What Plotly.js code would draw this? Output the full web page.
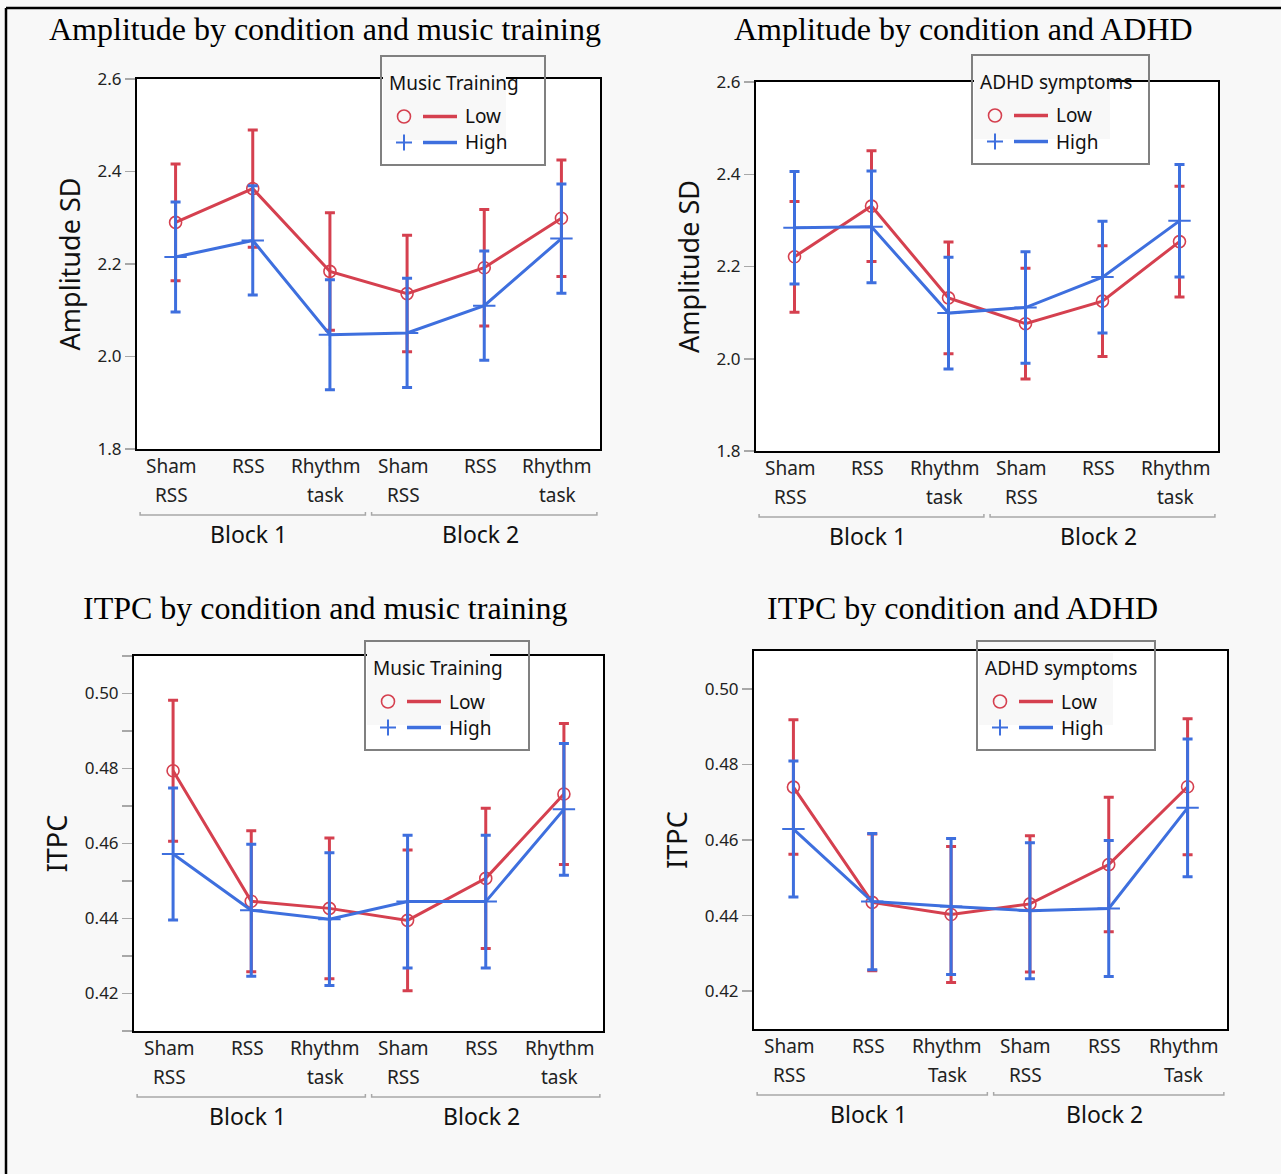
<!DOCTYPE html>
<html>
<head>
<meta charset="utf-8">
<script src="https://cdn.plot.ly/plotly-3.0.1.min.js"></script>
<style>
  html, body { margin: 0; padding: 0; background: #f8f8f8; }
  #chart { width: 1281px; height: 1174px; }
</style>
</head>
<body>
<div id="chart"></div>
<script>
// ---------- DATA ----------
const catTop = ['Sham', 'RSS', 'Rhythm', 'Sham', 'RSS', 'Rhythm'];
const catBottom = ['RSS', '', 'task', 'RSS', '', 'task'];
const catBottomCap = ['RSS', '', 'Task', 'RSS', '', 'Task'];
const blocks = ['Block 1', 'Block 2'];
const groupLevels = ['Low', 'High'];

// Amplitude SD by music training
const ampMusicLow = [2.290, 2.363, 2.184, 2.136, 2.192, 2.299];
const ampMusicLowErr = [0.126, 0.127, 0.127, 0.126, 0.126, 0.126];
const ampMusicHigh = [2.215, 2.251, 2.047, 2.051, 2.110, 2.255];
const ampMusicHighErr = [0.119, 0.118, 0.119, 0.118, 0.118, 0.118];

// Amplitude SD by ADHD symptoms
const ampAdhdLow = [2.221, 2.331, 2.132, 2.076, 2.125, 2.254];
const ampAdhdLowErr = [0.120, 0.120, 0.121, 0.120, 0.120, 0.120];
const ampAdhdHigh = [2.284, 2.286, 2.099, 2.111, 2.177, 2.299];
const ampAdhdHighErr = [0.122, 0.121, 0.121, 0.121, 0.121, 0.122];

// ITPC by music training
const itpcMusicLow = [0.4794, 0.4446, 0.4427, 0.4395, 0.4507, 0.4732];
const itpcMusicLowErr = [0.0188, 0.0188, 0.0188, 0.0188, 0.0187, 0.0188];
const itpcMusicHigh = [0.4572, 0.4422, 0.4398, 0.4445, 0.4445, 0.4691];
const itpcMusicHighErr = [0.0176, 0.0176, 0.0177, 0.0177, 0.0177, 0.0176];

// ITPC by ADHD symptoms
const itpcAdhdLow = [0.4740, 0.4435, 0.4403, 0.4431, 0.4535, 0.4741];
const itpcAdhdLowErr = [0.0178, 0.0181, 0.0180, 0.0180, 0.0178, 0.0180];
const itpcAdhdHigh = [0.4629, 0.4437, 0.4424, 0.4413, 0.4419, 0.4685];
const itpcAdhdHighErr = [0.0180, 0.0180, 0.0180, 0.0180, 0.0180, 0.0182];

// ---------- STYLE / LAYOUT ----------
const W = 1281, H = 1174;
const X = px => px / W;
const Y = py => 1 - py / H;
const RED = '#d5404f';
const BLUE = '#3e6fde';
const SANS = '"Noto Sans", "Open Sans", sans-serif';
const SERIF = '"Liberation Serif", "DejaVu Serif", serif';
const xIdx = catTop.map((_, i) => i);

const panels = [
  { ax: '', box: [137, 600, 79, 449], yr: [1.8, 2.6], dtick: 0.2, fmt: '.1f', minor: false,
    ytitle: 'Amplitude SD', title: 'Amplitude by condition and music training', titleXY: [325, 29],
    low: ampMusicLow, lowErr: ampMusicLowErr, high: ampMusicHigh, highErr: ampMusicHighErr,
    bottomLabels: catBottom, legTitle: 'Music Training', leg: [381, 56, 164], legBgW: 125 },
  { ax: '2', box: [756, 1218, 82, 451], yr: [1.8, 2.6], dtick: 0.2, fmt: '.1f', minor: false,
    ytitle: 'Amplitude SD', title: 'Amplitude by condition and ADHD', titleXY: [964, 29],
    low: ampAdhdLow, lowErr: ampAdhdLowErr, high: ampAdhdHigh, highErr: ampAdhdHighErr,
    bottomLabels: catBottom, legTitle: 'ADHD symptoms', leg: [972, 55, 177], legBgW: 138 },
  { ax: '3', box: [134, 603, 656, 1031], yr: [0.41, 0.51], dtick: 0.02, fmt: '.2f', minor: true,
    ytitle: 'ITPC', title: 'ITPC by condition and music training', titleXY: [325, 608],
    low: itpcMusicLow, lowErr: itpcMusicLowErr, high: itpcMusicHigh, highErr: itpcMusicHighErr,
    bottomLabels: catBottom, legTitle: 'Music Training', leg: [365, 641, 164], legBgW: 125 },
  { ax: '4', box: [754, 1227, 651, 1029], yr: [0.41, 0.51], dtick: 0.02, fmt: '.2f', minor: false,
    ytitle: 'ITPC', title: 'ITPC by condition and ADHD', titleXY: [963, 608],
    low: itpcAdhdLow, lowErr: itpcAdhdLowErr, high: itpcAdhdHigh, highErr: itpcAdhdHighErr,
    bottomLabels: catBottomCap, legTitle: 'ADHD symptoms', leg: [977, 641, 178], legBgW: 136 }
];

const data = [];
const layout = {
  width: W, height: H,
  margin: { l: 0, r: 0, t: 0, b: 0 },
  paper_bgcolor: '#f8f8f8',
  plot_bgcolor: '#ffffff',
  showlegend: false,
  annotations: [],
  shapes: []
};

panels.forEach(p => {
  const xa = 'x' + p.ax, ya = 'y' + p.ax;
  const [l, r, t, b] = p.box;
  layout['xaxis' + p.ax] = {
    domain: [X(l), X(r)], anchor: ya, range: [-0.5, 5.5],
    showline: true, mirror: true, linecolor: '#000', linewidth: 2,
    ticks: '', showticklabels: false, showgrid: false, zeroline: false, fixedrange: true
  };
  const yax = {
    domain: [Y(b), Y(t)], anchor: xa, range: p.yr,
    tick0: 0, dtick: p.dtick, tickformat: p.fmt,
    ticks: 'outside', ticklen: 10, tickwidth: 1.5, tickcolor: '#a8a8a8',
    tickfont: { family: SANS, size: 17, color: '#222' },
    showline: true, mirror: true, linecolor: '#000', linewidth: 2,
    showgrid: false, zeroline: false, fixedrange: true, automargin: false,
    title: { text: p.ytitle, font: { family: SANS, size: 27, color: '#111' }, standoff: 9 }
  };
  if (p.minor) {
    yax.minor = { dtick: 0.01, ticks: 'outside', ticklen: 10, tickwidth: 1.5, tickcolor: '#a8a8a8', showgrid: false };
  }
  layout['yaxis' + p.ax] = yax;

  // traces
  data.push({
    x: xIdx, y: p.low, xaxis: xa, yaxis: ya, name: groupLevels[0], mode: 'lines+markers',
    line: { color: RED, width: 3 },
    marker: { symbol: 'circle-open', size: 12, color: RED, line: { width: 1.6, color: RED } },
    error_y: { type: 'data', array: p.lowErr, visible: true, color: RED, thickness: 3, width: 5 },
    hoverinfo: 'skip'
  });
  data.push({
    x: xIdx, y: p.high, xaxis: xa, yaxis: ya, name: groupLevels[1], mode: 'lines+markers',
    line: { color: BLUE, width: 3 },
    marker: { symbol: 'cross-thin-open', size: 16, color: BLUE, line: { width: 2, color: BLUE } },
    error_y: { type: 'data', array: p.highErr, visible: true, color: BLUE, thickness: 3, width: 5 },
    hoverinfo: 'skip'
  });

  // chart title
  layout.annotations.push({
    text: p.title, xref: 'paper', yref: 'paper', x: X(p.titleXY[0]), y: Y(p.titleXY[1]),
    xanchor: 'center', yanchor: 'middle', showarrow: false,
    font: { family: SERIF, size: 32, color: '#000' }
  });

  // category labels (two lines)
  xIdx.forEach(i => {
    layout.annotations.push({
      text: catTop[i], xref: xa, yref: 'paper', x: i, y: Y(b + 17), xshift: -4,
      xanchor: 'center', yanchor: 'middle', showarrow: false,
      font: { family: SANS, size: 19, color: '#222' }
    });
    if (p.bottomLabels[i]) {
      layout.annotations.push({
        text: p.bottomLabels[i], xref: xa, yref: 'paper', x: i, y: Y(b + 46), xshift: -4,
        xanchor: 'center', yanchor: 'middle', showarrow: false,
        font: { family: SANS, size: 19, color: '#222' }
      });
    }
  });

  // block brackets and labels
  blocks.forEach((blk, k) => {
    const x0 = 3 * k - 0.46, x1 = 3 * k + 2.46;
    const yb = Y(b + 66), yu = Y(b + 63);
    layout.shapes.push({
      type: 'path', xref: xa, yref: 'paper', layer: 'above',
      path: `M ${x0},${yu} L ${x0},${yb} L ${x1},${yb} L ${x1},${yu}`,
      line: { color: '#a8a8a8', width: 1.5 }
    });
    layout.annotations.push({
      text: blk, xref: xa, yref: 'paper', x: 3 * k + 1, y: Y(b + 85), xshift: -4,
      xanchor: 'center', yanchor: 'middle', showarrow: false,
      font: { family: SANS, size: 23, color: '#111' }
    });
  });

  // legend (drawn manually to mimic marker + line samples)
  const [lx, ly, lw] = p.leg;
  const lh = 109;
  layout.shapes.push({
    type: 'rect', xref: 'paper', yref: 'paper', layer: 'above',
    x0: X(lx + 2), x1: X(lx + p.legBgW), y0: Y(ly + 12), y1: Y(ly + 84),
    fillcolor: '#f8f8f8', line: { width: 0 }
  });
  layout.shapes.push({
    type: 'rect', xref: 'paper', yref: 'paper', layer: 'above',
    x0: X(lx), x1: X(lx + lw), y0: Y(ly), y1: Y(ly + lh),
    fillcolor: 'rgba(0,0,0,0)', line: { color: '#808080', width: 2 }
  });
  layout.annotations.push({
    text: p.legTitle, xref: 'paper', yref: 'paper', x: X(lx + 6), y: Y(ly + 27),
    xanchor: 'left', yanchor: 'middle', showarrow: false,
    font: { family: SANS, size: 19, color: '#111' }
  });
  const rowY = [ly + 60.5, ly + 86.5];
  const cols = [RED, BLUE];
  groupLevels.forEach((g, k) => {
    const cy = rowY[k], cx = lx + 23;
    if (k === 0) {
      layout.shapes.push({
        type: 'circle', xref: 'paper', yref: 'paper', layer: 'above',
        x0: X(cx - 6.5), x1: X(cx + 6.5), y0: Y(cy - 6.5), y1: Y(cy + 6.5),
        line: { color: RED, width: 1.6 }
      });
    } else {
      layout.shapes.push({
        type: 'line', xref: 'paper', yref: 'paper', layer: 'above',
        x0: X(cx - 8), x1: X(cx + 8), y0: Y(cy), y1: Y(cy), line: { color: BLUE, width: 2 }
      });
      layout.shapes.push({
        type: 'line', xref: 'paper', yref: 'paper', layer: 'above',
        x0: X(cx), x1: X(cx), y0: Y(cy - 8), y1: Y(cy + 8), line: { color: BLUE, width: 2 }
      });
    }
    layout.shapes.push({
      type: 'line', xref: 'paper', yref: 'paper', layer: 'above',
      x0: X(lx + 42), x1: X(lx + 76), y0: Y(cy), y1: Y(cy), line: { color: cols[k], width: 3.5 }
    });
    layout.annotations.push({
      text: g, xref: 'paper', yref: 'paper', x: X(lx + 82), y: Y(cy),
      xanchor: 'left', yanchor: 'middle', showarrow: false,
      font: { family: SANS, size: 19, color: '#111' }
    });
  });
});

// outer page frame (top and left)
layout.shapes.push({
  type: 'line', xref: 'paper', yref: 'paper', layer: 'above',
  x0: X(6), x1: 1, y0: Y(8), y1: Y(8), line: { color: '#000', width: 2.5 }
});
layout.shapes.push({
  type: 'line', xref: 'paper', yref: 'paper', layer: 'above',
  x0: X(6), x1: X(6), y0: Y(8), y1: 0, line: { color: '#000', width: 2.5 }
});

Plotly.newPlot('chart', data, layout, { staticPlot: true, displayModeBar: false });
</script>
</body>
</html>
